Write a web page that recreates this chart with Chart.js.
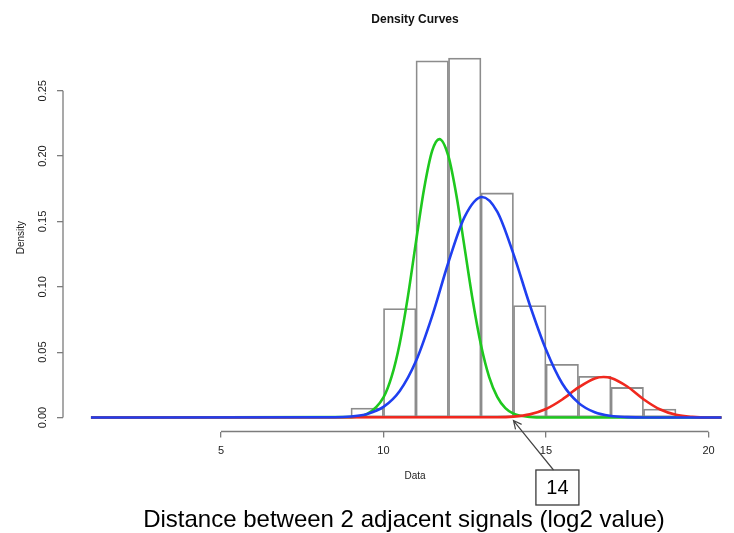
<!DOCTYPE html>
<html>
<head>
<meta charset="utf-8">
<title>Density Curves</title>
<script src="https://cdn.jsdelivr.net/npm/chart.js@4.4.1/dist/chart.umd.min.js"></script>
<style>
html, body { margin:0; padding:0; background:#fff; overflow:hidden; }
#wrap { position:relative; width:734px; height:533px; overflow:hidden; }
#box { position:absolute; left:0; top:0; width:780px; height:533px; }
#caption { position:absolute; left:0; top:504px; width:808px; text-align:center; white-space:nowrap;
  font-family:"Liberation Sans", Arial, sans-serif; font-size:24px; line-height:30px; color:#000; }
</style>
</head>
<body>
<div id="wrap">
  <div id="box"><canvas id="grafico"></canvas></div>
  <div id="caption">Distance between 2 adjacent signals (log2 value)</div>
</div>
<script>

// histogram, bin width 1
var binMids = [9.5, 10.5, 11.5, 12.5, 13.5, 14.5, 15.5, 16.5, 17.5, 18.5];
var binDensity = [0.0073, 0.0834, 0.2728, 0.2749, 0.1718, 0.0857, 0.0406, 0.0316, 0.0230, 0.0064];

// fitted component curves
var greenX = [1, 9, 9.5, 10, 10.25, 10.5, 10.75, 11, 11.25, 11.5, 11.72, 12, 12.25, 12.5, 12.75, 13, 13.25, 13.5, 13.75, 14, 14.5, 15, 20.4];
var greenY = [0, 0.0003, 0.0027, 0.0154, 0.0312, 0.0567, 0.0923, 0.1344, 0.1750, 0.2041, 0.2130, 0.1997, 0.1691, 0.1292, 0.0891, 0.0554, 0.0311, 0.0158, 0.0072, 0.0030, 0.0004, 0, 0];

var blueX = [1, 8.5, 9, 9.5, 10, 10.5, 11, 11.5, 12, 12.5, 13.03, 13.5, 14, 14.5, 15, 15.5, 16, 16.5, 17, 17.5, 18, 20.4];
var blueY = [0, 0.0002, 0.0008, 0.0027, 0.0081, 0.0203, 0.0432, 0.0778, 0.1188, 0.1537, 0.1687, 0.1575, 0.1250, 0.0863, 0.0520, 0.0260, 0.0112, 0.0040, 0.0012, 0.0003, 0, 0];

var redX = [1, 13.5, 14, 14.5, 15, 15.5, 16, 16.5, 16.77, 17, 17.5, 18, 18.5, 19, 19.5, 20, 20.4];
var redY = [0, 0.0002, 0.0007, 0.0024, 0.0065, 0.0138, 0.0230, 0.0299, 0.0310, 0.0302, 0.0237, 0.0140, 0.0063, 0.0021, 0.0005, 0, 0];

var xTicks = [5, 10, 15, 20];
var yTicks = [0, 0.05, 0.10, 0.15, 0.20, 0.25];

// point where green and red meet
var crossAt = 14;

var axisColor = '#7c7c7c';

function pts(xs, ys) {
  var out = [];
  for (var i = 0; i < xs.length; i++) out.push({x: xs[i], y: ys[i]});
  return out;
}

// R style axes: the line only runs from first to last tick, plus the boxed label with arrow
var rAxes = {
  id: 'rAxes',
  afterDraw: function (chart) {
    var c = chart.ctx;
    var xs = chart.scales.x;
    var ys = chart.scales.y;
    var a = chart.chartArea;

    c.save();
    c.strokeStyle = axisColor;
    c.lineWidth = 1.3;
    c.beginPath();
    c.moveTo(xs.getPixelForValue(xTicks[0]), a.bottom);
    c.lineTo(xs.getPixelForValue(xTicks[xTicks.length - 1]), a.bottom);
    c.moveTo(a.left, ys.getPixelForValue(yTicks[0]));
    c.lineTo(a.left, ys.getPixelForValue(yTicks[yTicks.length - 1]));
    c.stroke();

    // label box under the axis
    var bx = xs.getPixelForValue(14.69);
    var by = a.bottom + 38.5;
    var bw = 43, bh = 35;
    c.strokeStyle = '#3a3a3a';
    c.lineWidth = 1.3;
    c.fillStyle = '#fff';
    c.fillRect(bx, by, bw, bh);
    c.strokeRect(bx, by, bw, bh);
    c.fillStyle = '#000';
    c.font = '20px "Liberation Sans", Arial, sans-serif';
    c.textAlign = 'center';
    c.textBaseline = 'middle';
    c.fillText(String(crossAt), bx + bw / 2, by + bh / 2 + 1);

    // arrow from the box up to the crossing
    var tx = xs.getPixelForValue(crossAt);
    var ty = ys.getPixelForValue(0) + 3;
    var sx = bx + 17.6, sy = by;
    var ang = Math.atan2(ty - sy, tx - sx);
    var hl = 9, spread = 0.45;
    c.strokeStyle = '#444';
    c.lineWidth = 1.2;
    c.beginPath();
    c.moveTo(sx, sy);
    c.lineTo(tx, ty);
    c.moveTo(tx - hl * Math.cos(ang - spread), ty - hl * Math.sin(ang - spread));
    c.lineTo(tx, ty);
    c.lineTo(tx - hl * Math.cos(ang + spread), ty - hl * Math.sin(ang + spread));
    c.stroke();
    c.restore();
  }
};

Chart.defaults.font.family = '"Liberation Sans", Arial, Helvetica, sans-serif';
Chart.defaults.color = '#222';

var ctx = document.getElementById('grafico');

var grafico = new Chart(ctx, {
  type: 'line',
  data: {
    datasets: [
      {
        label: 'blue', data: pts(blueX, blueY),
        borderColor: '#1f3ff0', borderWidth: 2.6, pointRadius: 0,
        cubicInterpolationMode: 'monotone', fill: false, order: 1
      },
      {
        label: 'red', data: pts(redX, redY),
        borderColor: '#f0281e', borderWidth: 2.6, pointRadius: 0,
        cubicInterpolationMode: 'monotone', fill: false, order: 2
      },
      {
        label: 'green', data: pts(greenX, greenY),
        borderColor: '#1ec81e', borderWidth: 2.6, pointRadius: 0,
        cubicInterpolationMode: 'monotone', fill: false, order: 3
      },
      {
        type: 'bar', label: 'hist', data: pts(binMids, binDensity),
        backgroundColor: 'rgba(0,0,0,0)', borderColor: '#8c8c8c', borderWidth: 1.1,
        borderSkipped: false, barPercentage: 1, categoryPercentage: 1, order: 4
      }
    ]
  },
  options: {
    responsive: true,
    maintainAspectRatio: false,
    animation: false,
    layout: { padding: { left: 0, right: 13, top: 0, bottom: 0 } },
    plugins: {
      legend: { display: false },
      tooltip: { enabled: false },
      title: { display: false }
    },
    scales: {
      x: {
        type: 'linear', position: 'bottom', min: 0.14, max: 21.8, offset: false,
        afterBuildTicks: function (s) { s.ticks = xTicks.map(function (v) { return {value: v}; }); },
        afterFit: function (s) { s.height = 101.5; },
        border: { display: false },
        grid: { display: true, offset: false, drawOnChartArea: false, drawTicks: true, tickLength: 6, color: axisColor, lineWidth: 1.3 },
        ticks: { font: { size: 11 }, padding: 7, maxRotation: 0, callback: function (v) { return String(v); } },
        title: { display: true, text: 'Data', font: { size: 10 }, padding: { top: 0, bottom: 51 } }
      },
      x2: {
        type: 'linear', position: 'top', min: 0.14, max: 21.8, display: true,
        afterFit: function (s) { s.height = 43.8; },
        grid: { display: false },
        border: { display: false },
        ticks: { display: false },
        title: { display: true, text: 'Density Curves', color: '#111', font: { size: 12, weight: 'bold' }, padding: { top: 12.8, bottom: 0 } }
      },
      y: {
        type: 'linear', min: -0.0107, max: 0.2859,
        afterBuildTicks: function (s) { s.ticks = yTicks.map(function (v) { return {value: v}; }); },
        afterFit: function (s) { s.width = 63; },
        border: { display: false },
        grid: { display: true, offset: false, drawOnChartArea: false, drawTicks: true, tickLength: 6, color: axisColor, lineWidth: 1.3 },
        ticks: { font: { size: 11 }, minRotation: 90, maxRotation: 90, crossAlign: 'center', padding: 3.6,
          callback: function (v) { return v.toFixed(2); } },
        title: { display: true, text: 'Density', font: { size: 10 }, padding: { top: 15, bottom: 0 } }
      }
    }
  },
  plugins: [rAxes]
});

</script>
</body>
</html>
